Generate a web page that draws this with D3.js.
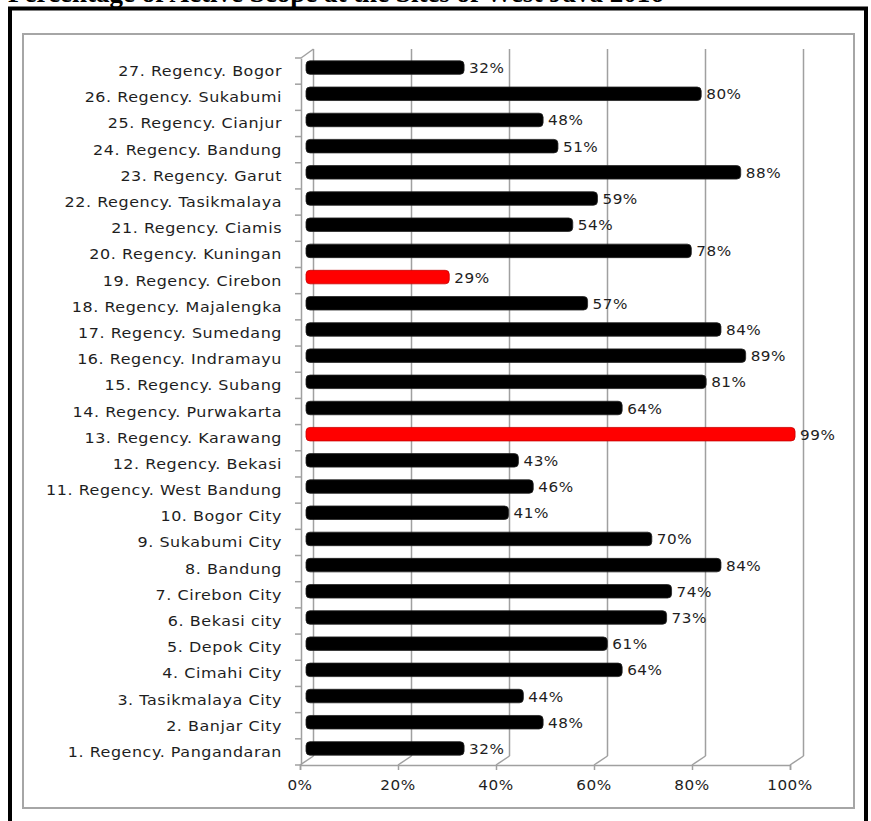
<!DOCTYPE html>
<html>
<head>
<meta charset="utf-8">
<script src="https://cdn.jsdelivr.net/npm/d3@7"></script>
<style>
  html, body { margin: 0; padding: 0; background: #fff; }
  svg { display: block; }
  .lbl { font-family: "DejaVu Sans", Verdana, sans-serif; font-size: 14.5px; fill: #1e1e1e; letter-spacing: 0.5px; }
</style>
</head>
<body>
<svg id="chart" width="871" height="821"></svg>
<script>
// Category labels, bottom (1) to top (27)
const categories = [
  "1. Regency. Pangandaran",
  "2. Banjar City",
  "3. Tasikmalaya City",
  "4. Cimahi City",
  "5. Depok City",
  "6. Bekasi city",
  "7. Cirebon City",
  "8. Bandung",
  "9. Sukabumi City",
  "10. Bogor City",
  "11. Regency. West Bandung",
  "12. Regency. Bekasi",
  "13. Regency. Karawang",
  "14. Regency. Purwakarta",
  "15. Regency. Subang",
  "16. Regency. Indramayu",
  "17. Regency. Sumedang",
  "18. Regency. Majalengka",
  "19. Regency. Cirebon",
  "20. Regency. Kuningan",
  "21. Regency. Ciamis",
  "22. Regency. Tasikmalaya",
  "23. Regency. Garut",
  "24. Regency. Bandung",
  "25. Regency. Cianjur",
  "26. Regency. Sukabumi",
  "27. Regency. Bogor"
];

// Percentage per region, same order as categories
const values = [32, 48, 44, 64, 61, 73, 74, 84, 70, 41, 46, 43, 99, 64, 81, 89, 84, 57, 29, 78, 54, 59, 88, 51, 48, 80, 32];

// Regions drawn in red
const highlighted = ["13. Regency. Karawang", "19. Regency. Cirebon"];

// Axis ticks
const xTicks = [0, 20, 40, 60, 80, 100];
const xTickLabels = ["0%", "20%", "40%", "60%", "80%", "100%"];

const titleText = "Percentage of Active Scope at the Sites of West Java 2016";

const svg = d3.select("#chart");

// Depth offset of the back wall (pseudo 3D)
const depthX = 13.5, depthY = -9;

// Front plane scales
const x = d3.scaleLinear().domain([0, 100]).range([300, 790]);
const xBar = d3.scaleLinear().domain([0, 100]).range([306, 800]);
const y = d3.scaleBand()
  .domain(categories.slice().reverse())
  .range([58, 765])
  .paddingInner(0).paddingOuter(0);

// Title, running off the top of the page behind the frame
svg.append("text")
  .attr("x", 8).attr("y", 2)
  .attr("font-family", "'Liberation Serif', 'Times New Roman', serif")
  .attr("font-weight", "bold")
  .attr("font-size", 27)
  .attr("fill", "#000")
  .text(titleText);

// Outer black frame
svg.append("path")
  .attr("d", "M10,830 L10,8.5 L866,8.5 L866,830")
  .attr("fill", "none").attr("stroke", "#000").attr("stroke-width", 4);

// Chart area border
svg.append("rect")
  .attr("x", 23).attr("y", 34).attr("width", 831).attr("height", 774)
  .attr("fill", "#fff").attr("stroke", "#a6a6a6").attr("stroke-width", 2);

const grid = svg.append("g").attr("stroke", "#a0a0a0").attr("stroke-width", 1.5).attr("fill", "none");

// Back-wall gridlines
grid.selectAll("line.gv").data(xTicks).join("line")
  .attr("class", "gv")
  .attr("x1", d => x(d) + depthX).attr("x2", d => x(d) + depthX)
  .attr("y1", y.range()[0] + depthY).attr("y2", y.range()[1] + depthY);

// Floor: depth lines from front ticks to the back wall
grid.selectAll("line.gd").data(xTicks).join("line")
  .attr("class", "gd")
  .attr("x1", d => x(d)).attr("y1", y.range()[1])
  .attr("x2", d => x(d) + depthX).attr("y2", y.range()[1] + depthY);

// Front category axis
const yAxis = d3.axisLeft(y).tickSize(0).tickFormat("");
const gy = svg.append("g").attr("transform", `translate(${x(0) + 1},0)`).call(yAxis);
gy.select(".domain").attr("stroke", "#a0a0a0").attr("stroke-width", 1.5);
// tick marks at category boundaries
grid.selectAll("line.ct").data(d3.range(categories.length + 1)).join("line")
  .attr("class", "ct")
  .attr("x1", x(0) - 5).attr("x2", x(0) + 1)
  .attr("y1", i => y.range()[0] + i * y.step())
  .attr("y2", i => y.range()[0] + i * y.step());
// top depth edge of the left wall
grid.append("line")
  .attr("x1", x(0) + 1).attr("y1", y.range()[0])
  .attr("x2", x(0) + depthX).attr("y2", y.range()[0] + depthY);

// Front value axis
const xAxis = d3.axisBottom(x).tickValues(xTicks).tickSize(5).tickFormat("");
const gx = svg.append("g").attr("transform", `translate(0,${y.range()[1]})`).call(xAxis);
gx.select(".domain").attr("stroke", "#a0a0a0").attr("stroke-width", 1.5);
gx.selectAll(".tick line").attr("stroke", "#a0a0a0").attr("stroke-width", 1.5);

// Tick labels
svg.append("g").selectAll("text").data(xTicks).join("text")
  .attr("class", "lbl")
  .attr("text-anchor", "middle")
  .attr("transform", d => `translate(${x(d)},790) scale(1.05,1)`)
  .text((d, i) => xTickLabels[i]);

// Category labels
svg.append("g").selectAll("text").data(categories).join("text")
  .attr("class", "lbl")
  .attr("text-anchor", "end")
  .attr("transform", d => `translate(282,${y(d) + y.bandwidth() / 2 + 5}) scale(1.1,1)`)
  .text(d => d);

// Bars
const barH = 13.5, barShift = -3.5;
const rows = categories.map((c, i) => ({ c, v: values[i] }));
svg.append("g").selectAll("rect").data(rows).join("rect")
  .attr("x", xBar(0))
  .attr("y", d => y(d.c) + y.bandwidth() / 2 + barShift - barH / 2)
  .attr("width", d => xBar(d.v) - xBar(0))
  .attr("height", barH)
  .attr("rx", 4).attr("ry", 4)
  .attr("fill", d => highlighted.includes(d.c) ? "#ff0000" : "#000")
  .attr("stroke", d => highlighted.includes(d.c) ? "#c80000" : "#222")
  .attr("stroke-width", 0.8);

// Value labels
svg.append("g").selectAll("text").data(rows).join("text")
  .attr("class", "lbl")
  .attr("transform", d => `translate(${xBar(d.v) + 5},${y(d.c) + y.bandwidth() / 2 + barShift + 5.5}) scale(1.05,1)`)
  .text(d => d.v + "%");
</script>
</body>
</html>
